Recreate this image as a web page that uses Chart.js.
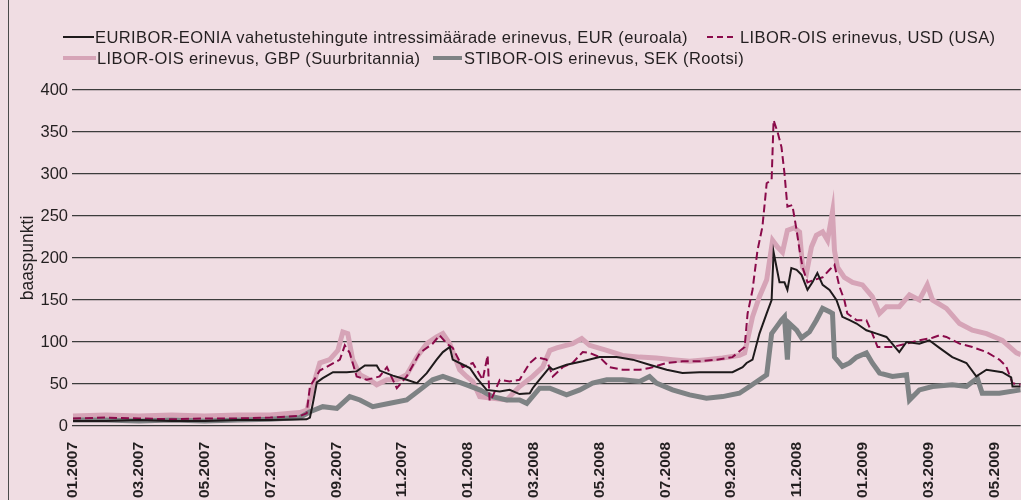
<!DOCTYPE html>
<html>
<head>
<meta charset="utf-8">
<script src="https://cdn.jsdelivr.net/npm/chart.js@4.4.0/dist/chart.umd.min.js"></script>
<style>
body { margin: 0; background: #f0dde3; }
#wrap { position: relative; width: 1021px; height: 500px; overflow: hidden; background: #f0dde3; }
#frame { position: absolute; left: 8px; top: 0; width: 1px; height: 500px; background: #4a4a4a; }
.lg { position: absolute; font: 16.5px "Liberation Sans", Arial, sans-serif; letter-spacing: 0.4px; color: #231f20; line-height: 18px; white-space: nowrap; }
.sw { position: absolute; }
canvas { position: absolute; left: 0; top: 0; }
</style>
</head>
<body>
<div id="wrap">
  <div id="frame"></div>
  <canvas id="chart" width="1021" height="500"></canvas>
  <div id="legend"></div>
</div>
<script>
// x values are months since 01.2007
var tickMonths = [0, 2, 4, 6, 8, 10, 12, 14, 16, 18, 20, 22, 24, 26, 28];
var tickLabels = ['01.2007', '03.2007', '05.2007', '07.2007', '09.2007', '11.2007', '01.2008',
    '03.2008', '05.2008', '07.2008', '09.2008', '11.2008', '01.2009', '03.2009', '05.2009'];

var seriesNames = [
    'EURIBOR-EONIA vahetustehingute intressimäärade erinevus, EUR (euroala)',
    'LIBOR-OIS erinevus, USD (USA)',
    'LIBOR-OIS erinevus, GBP (Suurbritannia)',
    'STIBOR-OIS erinevus, SEK (Rootsi)'
];

var eurMonths = [0, 1, 2, 3, 4, 5, 6, 7.1, 7.2, 7.29, 7.41, 7.59, 7.9, 8.32, 8.62, 8.87, 9.23, 9.32, 9.72, 10.14,
    10.45, 10.75, 11.05, 11.24, 11.45, 11.54, 11.75, 12.06, 12.27, 12.57, 12.97, 13.27, 13.57, 13.88, 13.97, 14.09,
    14.49, 14.58, 15.0, 15.49, 16.0, 16.52, 17.01, 17.52, 18.04, 18.52, 19.04, 20.04, 20.35, 20.47, 20.65, 20.86,
    21.08, 21.23, 21.29, 21.38, 21.47, 21.62, 21.71, 21.83, 21.99, 22.14, 22.32, 22.47, 22.62, 22.78, 22.99, 23.2,
    23.38, 23.6, 23.81, 24.11, 24.42, 24.72, 25.11, 25.33, 25.72, 26.02, 26.33, 26.72, 27.15, 27.45, 27.76, 28.24,
    28.51, 28.55, 28.8];
var eurValues = [6, 6, 7, 6, 6, 7, 7, 8, 10, 27, 52, 57, 64, 64, 65, 72, 72, 66, 60, 55,
    51, 63, 79, 88, 94, 79, 75, 69, 57, 43, 41, 43, 38, 39, 45, 51,
    70, 67, 73, 77, 82, 82, 79, 73, 67, 63, 64, 64, 70, 75, 79, 110,
    134, 150, 207, 189, 171, 171, 162, 188, 186, 180, 162, 171, 182, 168, 162, 150,
    130, 126, 122, 114, 110, 106, 88, 100, 98, 102, 93, 82, 75, 59, 67, 64,
    58, 47, 47];

var usdMonths = [0, 1, 2, 3, 4, 5, 6, 6.9, 7.1, 7.2, 7.5, 8.11, 8.26, 8.41, 8.62, 8.93, 9.32, 9.54, 9.84, 10.14,
    10.54, 10.93, 11.14, 11.36, 11.54, 11.84, 12.15, 12.45, 12.6, 12.66, 12.75, 12.97, 13.27, 13.57, 13.88, 14.09,
    14.39, 14.58, 14.88, 15.18, 15.49, 15.7, 16.0, 16.31, 16.7, 17.22, 17.52, 18.04, 18.52, 19.04, 19.56, 20.04,
    20.41, 20.5, 20.65, 20.8, 20.95, 21.08, 21.23, 21.29, 21.41, 21.53, 21.62, 21.71, 21.86, 21.99, 22.08, 22.17,
    22.32, 22.53, 22.78, 22.99, 23.14, 23.29, 23.44, 23.53, 23.81, 24.11, 24.29, 24.45, 24.9, 25.33, 25.72, 26.12,
    26.33, 26.54, 26.94, 27.33, 27.76, 28.15, 28.36, 28.55, 28.8];
var usdValues = [9, 10, 9, 8, 9, 9, 10, 12, 15, 47, 66, 79, 96, 87, 59, 55, 59, 70, 45, 59,
    87, 98, 108, 98, 93, 70, 75, 55, 84, 30, 35, 55, 53, 55, 75, 82,
    79, 59, 70, 75, 88, 87, 82, 70, 67, 67, 69, 75, 77, 77, 79, 82,
    94, 134, 162, 209, 237, 289, 293, 364, 350, 332, 301, 261, 263, 233, 209, 189,
    171, 174, 177, 186, 192, 166, 150, 134, 126, 126, 110, 94, 94, 98, 102, 105,
    108, 106, 98, 94, 88, 79, 71, 51, 49];

var gbpMonths = [0, 1, 2, 3, 4, 5, 6, 6.89, 7.11, 7.29, 7.5, 7.8, 8.05, 8.2, 8.35, 8.5, 8.72, 9.02, 9.23, 9.54,
    9.84, 10.14, 10.45, 10.75, 11.05, 11.24, 11.45, 11.75, 11.96, 12.15, 12.36, 12.75, 13.18, 13.57, 13.97, 14.27,
    14.49, 14.7, 15.18, 15.46, 15.7, 16.22, 16.7, 17.22, 17.73, 18.22, 18.74, 19.25, 19.74, 20.25, 20.41, 20.65,
    20.86, 21.08, 21.26, 21.41, 21.56, 21.71, 21.92, 22.08, 22.17, 22.29, 22.44, 22.59, 22.78, 22.93, 23.08, 23.14,
    23.23, 23.44, 23.69, 23.99, 24.29, 24.51, 24.72, 25.11, 25.42, 25.72, 25.96, 26.12, 26.54, 26.94, 27.33, 27.76,
    28.24, 28.67, 28.8];
var gbpValues = [12, 13, 12, 13, 12, 13, 13, 16, 19, 47, 75, 79, 90, 112, 110, 79, 61, 55, 49, 55,
    55, 61, 82, 98, 106, 110, 98, 67, 59, 53, 35, 33, 31, 47, 59, 70,
    90, 93, 98, 104, 96, 90, 84, 82, 81, 79, 77, 79, 81, 84, 87, 130,
    154, 174, 221, 213, 207, 233, 236, 231, 189, 182, 213, 227, 231, 221, 255, 209,
    189, 177, 171, 168, 154, 134, 142, 142, 156, 150, 168, 150, 140, 122, 114, 110,
    102, 87, 85];

var sekMonths = [0, 1, 2, 3, 4, 5, 6, 6.89, 7.2, 7.59, 8.02, 8.41, 8.72, 9.11, 9.63, 10.14, 10.54, 10.93, 11.24, 11.54,
    11.96, 12.36, 12.75, 13.18, 13.57, 13.79, 14.18, 14.49, 15.0, 15.4, 15.79, 16.22, 16.7, 17.22, 17.52, 17.73,
    18.22, 18.74, 19.25, 19.74, 20.25, 20.56, 20.86, 21.08, 21.23, 21.38, 21.53, 21.62, 21.71, 21.77, 21.99, 22.14,
    22.38, 22.59, 22.78, 22.99, 23.08, 23.14, 23.38, 23.6, 23.81, 24.11, 24.29, 24.51, 24.9, 25.33, 25.42, 25.72,
    26.12, 26.72, 27.15, 27.48, 27.63, 28.15, 28.8];
var sekValues = [7, 7, 6, 7, 6, 7, 8, 10, 17, 23, 21, 35, 31, 23, 27, 31, 43, 55, 59, 55,
    49, 43, 35, 31, 31, 27, 45, 45, 37, 43, 51, 55, 55, 53, 59, 51,
    43, 37, 33, 35, 39, 47, 55, 61, 110, 118, 126, 130, 79, 122, 114, 105,
    112, 126, 140, 136, 134, 82, 71, 75, 82, 87, 75, 63, 59, 61, 31, 43,
    47, 49, 47, 57, 39, 39, 43];

function toPoints(xs, ys) {
    var pts = [];
    for (var i = 0; i < xs.length; i++) {
        pts.push({ x: xs[i], y: ys[i] });
    }
    return pts;
}

var textColor = '#231f20';
Chart.defaults.font.family = '"Liberation Sans", Arial, sans-serif';
Chart.defaults.font.size = 16.5;
Chart.defaults.color = textColor;

var datasets = [
    { label: seriesNames[0], data: toPoints(eurMonths, eurValues), borderColor: '#1e1a1b', borderWidth: 2, order: 1 },
    { label: seriesNames[1], data: toPoints(usdMonths, usdValues), borderColor: '#8a0a4a', borderWidth: 2, borderDash: [8, 4], order: 2 },
    { label: seriesNames[2], data: toPoints(gbpMonths, gbpValues), borderColor: '#d6a4b7', borderWidth: 5, order: 4 },
    { label: seriesNames[3], data: toPoints(sekMonths, sekValues), borderColor: '#7e8284', borderWidth: 5, order: 3 }
];

new Chart(document.getElementById('chart'), {
    type: 'line',
    data: { datasets: datasets },
    options: {
        responsive: false,
        animation: false,
        devicePixelRatio: 1,
        layout: { padding: { left: 15, top: 90, right: 0, bottom: 0 } },
        elements: { point: { radius: 0 }, line: { tension: 0, fill: false } },
        plugins: { legend: { display: false }, tooltip: { enabled: false } },
        scales: {
            x: {
                type: 'linear',
                min: -0.03,
                max: 28.8,
                grid: { display: false },
                border: { display: false },
                afterBuildTicks: function(scale) {
                    scale.ticks = tickMonths.map(function(m) { return { value: m }; });
                },
                afterFit: function(scale) { scale.height = 74; },
                ticks: {
                    autoSkip: false,
                    minRotation: 90,
                    maxRotation: 90,
                    padding: 8,
                    font: { size: 15.5, weight: 'bold' },
                    callback: function(value, index) { return tickLabels[index]; }
                }
            },
            y: {
                min: 0,
                max: 400,
                ticks: { stepSize: 50, padding: 4 },
                grid: { color: '#3c3c3c', lineWidth: 1.2, drawTicks: false },
                border: { display: false },
                title: { display: true, text: 'baaspunkti', font: { size: 17.5 }, padding: { top: 3, bottom: 4 } },
                afterFit: function(scale) { scale.width = 57; }
            }
        }
    }
});

// legend drawn as html, same names and colours as the datasets
var legendPlaces = [
    { sw: 63, swW: 31, text: 95, top: 28 },
    { sw: 707, swW: 27, text: 740, top: 28 },
    { sw: 63, swW: 33, text: 97, top: 49 },
    { sw: 433, swW: 29, text: 464, top: 49 }
];
var legend = document.getElementById('legend');
for (var i = 0; i < datasets.length; i++) {
    var ds = datasets[i];
    var p = legendPlaces[i];
    var sw = document.createElement('div');
    sw.className = 'sw';
    var h = ds.borderWidth === 5 ? 4 : 2;
    sw.style.left = p.sw + 'px';
    sw.style.width = p.swW + 'px';
    sw.style.height = h + 'px';
    sw.style.top = (p.top + 9 - h / 2) + 'px';
    if (ds.borderDash) {
        sw.style.background = 'repeating-linear-gradient(to right, ' + ds.borderColor + ' 0 6px, transparent 6px 10px)';
    } else {
        sw.style.background = ds.borderColor;
    }
    legend.appendChild(sw);
    var t = document.createElement('div');
    t.className = 'lg';
    t.style.left = p.text + 'px';
    t.style.top = p.top + 'px';
    t.textContent = ds.label;
    legend.appendChild(t);
}
</script>
</body>
</html>
